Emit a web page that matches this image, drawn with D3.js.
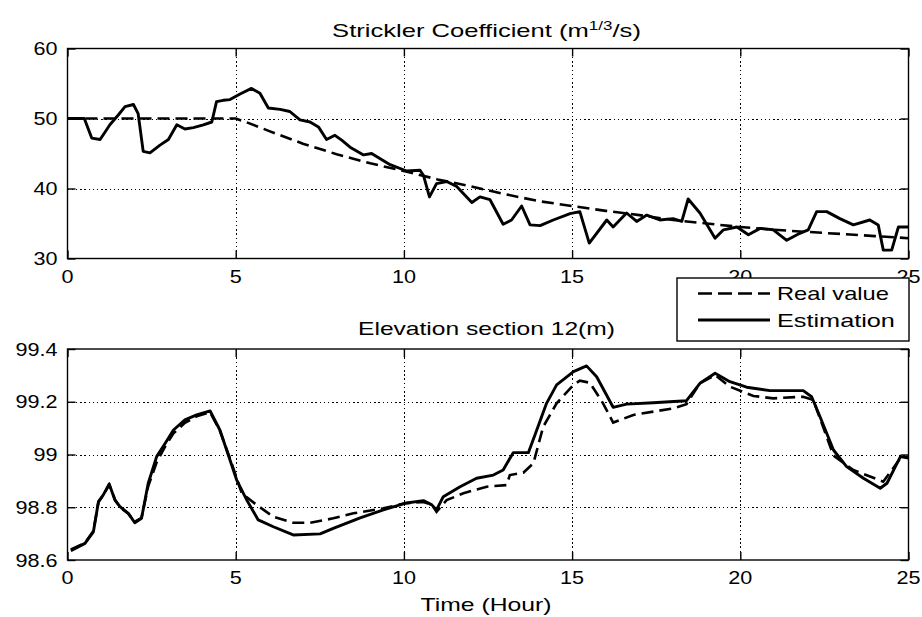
<!DOCTYPE html>
<html><head><meta charset="utf-8">
<script src="https://cdn.jsdelivr.net/npm/d3@7"></script>
<style>
body{margin:0;background:#fff}
svg{display:block}
text{font-family:"Liberation Sans",Arial,sans-serif;fill:#000}
</style>
</head><body>
<svg id="c" width="922" height="617"></svg>
<script>
// ---------- data ----------
const xTicks = [0, 5, 10, 15, 20, 25];
const kTicks = [30, 40, 50, 60];
const hTicks = [98.6, 98.8, 99, 99.2, 99.4];
const hTickLabels = ["98.6", "98.8", "99", "99.2", "99.4"];

// Strickler coefficient: real value
const kRealTime = [0, 5, 5.3, 6, 7, 8, 9, 10, 11, 12, 13, 14, 15, 16, 17, 18, 19, 20, 21, 22, 23, 24, 25];
const kRealVal  = [50, 50, 49.5, 48.2, 46.4, 44.9, 43.6, 42.5, 41.3, 40.3, 39.2, 38.2, 37.5, 36.8, 36.2, 35.5, 35.0, 34.5, 34.1, 33.8, 33.5, 33.2, 32.9];

// Strickler coefficient: estimation
const kEstTime = [0, 0.5, 0.72, 0.97, 1.26, 1.51, 1.71, 1.96, 2.1, 2.25, 2.45, 2.75, 3.0, 3.25, 3.49, 3.74, 4.04, 4.29, 4.43, 4.63, 4.83, 5.13, 5.47, 5.72, 5.97, 6.32, 6.61, 6.91, 7.21, 7.46, 7.7, 7.95, 8.15, 8.4, 8.8, 9.04, 9.59, 10.08, 10.48, 10.58, 10.76, 10.97, 11.27, 11.57, 12.02, 12.26, 12.56, 12.95, 13.2, 13.5, 13.75, 14.05, 14.44, 14.94, 15.23, 15.51, 16.03, 16.22, 16.62, 16.92, 17.22, 17.61, 18.0, 18.26, 18.45, 18.8, 19.25, 19.5, 19.9, 20.24, 20.59, 20.98, 21.38, 21.77, 22.02, 22.27, 22.57, 22.96, 23.36, 23.85, 24.1, 24.25, 24.5, 24.7, 25];
const kEstVal  = [50, 50, 47.2, 47.0, 49.1, 50.5, 51.7, 52.0, 50.7, 45.3, 45.1, 46.2, 47.0, 49.1, 48.5, 48.7, 49.1, 49.5, 52.4, 52.6, 52.7, 53.5, 54.3, 53.6, 51.5, 51.3, 51.0, 49.8, 49.5, 48.8, 47.0, 47.6, 46.9, 45.9, 44.8, 45.0, 43.4, 42.5, 42.6, 41.9, 38.8, 40.7, 41.0, 40.3, 38.0, 38.8, 38.4, 34.9, 35.5, 37.5, 34.8, 34.7, 35.5, 36.4, 36.7, 32.2, 35.5, 34.5, 36.5, 35.3, 36.2, 35.5, 35.7, 35.3, 38.5, 36.5, 32.9, 34.1, 34.5, 33.4, 34.3, 34.1, 32.6, 33.6, 34.1, 36.7, 36.7, 35.7, 34.8, 35.5, 34.8, 31.2, 31.2, 34.5, 34.5];

// Elevation section 12: real value
const hRealTime = [0.1, 0.52, 0.77, 0.92, 1.06, 1.24, 1.41, 1.56, 1.81, 2.0, 2.2, 2.4, 2.65, 2.9, 3.15, 3.49, 3.84, 4.24, 4.53, 4.83, 5.18, 5.62, 6.12, 6.71, 7.21, 7.9, 8.5, 9.39, 10.03, 10.58, 10.83, 10.97, 11.27, 11.77, 12.46, 13.05, 13.15, 13.55, 13.85, 14.14, 14.54, 15.04, 15.23, 15.53, 15.92, 16.22, 16.82, 18.01, 18.4, 18.8, 19.25, 19.69, 20.39, 20.98, 21.87, 22.17, 22.77, 23.36, 24.25, 24.76, 25];
const hRealVal  = [98.64, 98.665, 98.71, 98.82, 98.845, 98.885, 98.83, 98.80, 98.775, 98.745, 98.76, 98.88, 98.97, 99.03, 99.08, 99.12, 99.145, 99.16, 99.09, 98.985, 98.853, 98.809, 98.764, 98.741, 98.741, 98.758, 98.777, 98.796, 98.815, 98.82, 98.81, 98.783, 98.827, 98.853, 98.878, 98.884, 98.922, 98.931, 98.967, 99.105, 99.194, 99.264, 99.28, 99.272, 99.194, 99.121, 99.15, 99.175, 99.191, 99.27, 99.301, 99.257, 99.222, 99.213, 99.219, 99.207, 98.996, 98.941, 98.897, 98.986, 98.992];

// Elevation section 12: estimation
const hEstTime = [0.1, 0.52, 0.77, 0.92, 1.06, 1.24, 1.41, 1.56, 1.81, 2.0, 2.2, 2.4, 2.65, 2.9, 3.15, 3.49, 3.84, 4.24, 4.53, 4.83, 5.03, 5.33, 5.67, 6.12, 6.71, 7.51, 7.9, 8.7, 9.39, 10.03, 10.58, 10.83, 10.97, 11.17, 11.67, 12.16, 12.66, 12.95, 13.25, 13.7, 13.95, 14.24, 14.54, 15.04, 15.43, 15.73, 16.22, 16.62, 17.41, 18.4, 18.8, 19.25, 19.69, 20.19, 20.88, 21.87, 22.12, 22.37, 22.77, 23.16, 23.66, 24.16, 24.36, 24.76, 25];
const hEstVal  = [98.635, 98.663, 98.707, 98.821, 98.846, 98.888, 98.827, 98.802, 98.777, 98.741, 98.758, 98.891, 98.992, 99.042, 99.093, 99.131, 99.150, 99.165, 99.093, 98.979, 98.903, 98.827, 98.752, 98.726, 98.695, 98.699, 98.720, 98.760, 98.790, 98.815, 98.825, 98.809, 98.790, 98.840, 98.878, 98.910, 98.922, 98.941, 99.007, 99.007, 99.093, 99.194, 99.264, 99.314, 99.336, 99.295, 99.179, 99.191, 99.196, 99.204, 99.270, 99.308, 99.276, 99.255, 99.242, 99.242, 99.219, 99.143, 99.017, 98.954, 98.910, 98.872, 98.891, 98.992, 98.986];

const legendLabels = ["Real value", "Estimation"];

// ---------- drawing ----------
const svg = d3.select("#c");
const x = d3.scaleLinear().domain([0, 25]).range([67.5, 908.5]);
const yK = d3.scaleLinear().domain([30, 60]).range([258.5, 48.5]);
const yH = d3.scaleLinear().domain([98.6, 99.4]).range([560, 349]);

const FS = 18, TICK_SX = 1.2;

function scaledText(g, tx, ty, str, anchor, sx) {
  return g.append("text")
    .attr("transform", `translate(${tx},${ty}) scale(${sx},1)`)
    .attr("text-anchor", anchor)
    .attr("font-size", FS)
    .text(str);
}

function fitText(sel, cx, baseY, targetW) {
  const w = sel.node().getBBox().width;
  sel.attr("transform", `translate(${cx},${baseY}) scale(${targetW / w},1)`);
}

function panel(y, yTicks, yLabels, realT, realV, estT, estV) {
  const g = svg.append("g");
  const [x0, x1] = x.range();
  const [yb, yt] = y.range();

  // grid (dotted, crisp)
  const dot = "1.5,2.7";
  g.selectAll(".gx").data(xTicks.slice(1, -1)).enter().append("line")
    .attr("x1", d => Math.round(x(d)) + 0.5).attr("x2", d => Math.round(x(d)) + 0.5)
    .attr("y1", yt).attr("y2", yb)
    .attr("stroke", "#000").attr("stroke-width", 1.3).attr("stroke-dasharray", dot)
    .attr("shape-rendering", "crispEdges");
  g.selectAll(".gy").data(yTicks.slice(1, -1)).enter().append("line")
    .attr("x1", x0).attr("x2", x1)
    .attr("y1", d => Math.round(y(d)) + 0.5).attr("y2", d => Math.round(y(d)) + 0.5)
    .attr("stroke", "#000").attr("stroke-width", 1.3).attr("stroke-dasharray", dot)
    .attr("shape-rendering", "crispEdges");

  // ticks (inward, all four sides)
  const tk = 8;
  const axes = [
    [d3.axisBottom(x).tickValues(xTicks), `translate(0,${yb})`],
    [d3.axisTop(x).tickValues(xTicks), `translate(0,${yt})`],
    [d3.axisLeft(y).tickValues(yTicks), `translate(${x0},0)`],
    [d3.axisRight(y).tickValues(yTicks), `translate(${x1},0)`]
  ];
  axes.forEach(([ax, tr]) => {
    const a = g.append("g").attr("transform", tr)
      .call(ax.tickSizeInner(-tk).tickSizeOuter(0).tickFormat(""));
    a.select(".domain").remove();
    a.selectAll("line").attr("stroke", "#000").attr("stroke-width", 1.4);
  });

  // frame
  g.append("rect").attr("x", x0).attr("y", yt).attr("width", x1 - x0).attr("height", yb - yt)
    .attr("fill", "none").attr("stroke", "#000").attr("stroke-width", 1.4);

  // tick labels
  xTicks.forEach(t => scaledText(g, x(t), yb + 24, String(t), "middle", TICK_SX));
  yTicks.forEach((t, i) => scaledText(g, x0 - 10, y(t) + 6.5, yLabels[i], "end", TICK_SX));

  // series
  const line = d3.line().x(d => x(d[0])).y(d => y(d[1]));
  g.append("path").datum(realT.map((t, i) => [t, realV[i]]))
    .attr("d", line).attr("fill", "none").attr("stroke", "#000")
    .attr("stroke-width", 2.6).attr("stroke-dasharray", "12,6");
  g.append("path").datum(estT.map((t, i) => [t, estV[i]]))
    .attr("d", line).attr("fill", "none").attr("stroke", "#000")
    .attr("stroke-width", 2.9).attr("stroke-linejoin", "round");
  return g;
}

panel(yK, kTicks, kTicks.map(String), kRealTime, kRealVal, kEstTime, kEstVal);
panel(yH, hTicks, hTickLabels, hRealTime, hRealVal, hEstTime, hEstVal);

// titles
const t1 = svg.append("text").attr("text-anchor", "middle").attr("font-size", FS);
t1.append("tspan").text("Strickler Coefficient (m");
t1.append("tspan").attr("font-size", 12).attr("dy", -7).text("1/3");
t1.append("tspan").attr("dy", 7).text("/s)");
fitText(t1, 486.5, 37, 309);

const t2 = svg.append("text").attr("text-anchor", "middle").attr("font-size", FS)
  .text("Elevation section 12(m)");
fitText(t2, 486.5, 335, 257);

const t3 = svg.append("text").attr("text-anchor", "middle").attr("font-size", FS)
  .text("Time (Hour)");
fitText(t3, 486, 611, 131);

// legend
const lg = svg.append("g");
lg.append("rect").attr("x", 677).attr("y", 278).attr("width", 232).attr("height", 63)
  .attr("fill", "#fff").attr("stroke", "#000").attr("stroke-width", 1.4);
lg.append("line").attr("x1", 698).attr("x2", 770).attr("y1", 293.5).attr("y2", 293.5)
  .attr("stroke", "#000").attr("stroke-width", 2.6).attr("stroke-dasharray", "14,6");
lg.append("line").attr("x1", 698).attr("x2", 770).attr("y1", 320).attr("y2", 320)
  .attr("stroke", "#000").attr("stroke-width", 2.9);
const l1 = lg.append("text").attr("text-anchor", "start").attr("font-size", FS).text(legendLabels[0]);
fitText(l1, 777, 300, 112);
const l2 = lg.append("text").attr("text-anchor", "start").attr("font-size", FS).text(legendLabels[1]);
fitText(l2, 777, 327, 118);
</script>
</body></html>
